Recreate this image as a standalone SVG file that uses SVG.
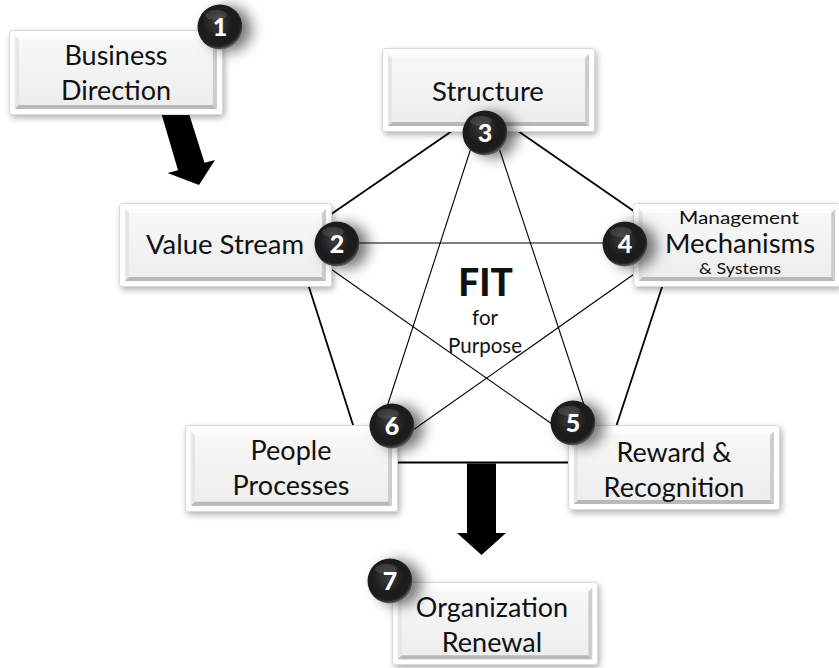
<svg xmlns="http://www.w3.org/2000/svg" xmlns:xlink="http://www.w3.org/1999/xlink" width="839" height="668" viewBox="0 0 839 668">
  <style>
    .edge { stroke: #000; stroke-width: 1.8; fill: none; }
    .diag { stroke: #000; stroke-width: 1.1; fill: none; }
    .lbl { font-family: Lato, "Open Sans", sans-serif; fill: #111; text-anchor: middle; }
    .num { font-family: Lato, "Open Sans", sans-serif; font-weight: 900; fill: #fff; text-anchor: middle; font-size: 25px; }
    .fat { fill: #000; }
  </style>
  <defs>
    <filter id="cardShadow" x="-10%" y="-15%" width="125%" height="140%">
      <feDropShadow dx="2" dy="3" stdDeviation="3" flood-color="#000" flood-opacity="0.3"/>
    </filter>
    <filter id="ballShadow" x="-60%" y="-60%" width="240%" height="220%">
      <feDropShadow dx="9" dy="2" stdDeviation="7" flood-color="#000" flood-opacity="0.55"/>
    </filter>
    <linearGradient id="face" x1="0" y1="0" x2="0" y2="1">
      <stop offset="0" stop-color="#f8f8f8"/>
      <stop offset="1" stop-color="#ededed"/>
    </linearGradient>
    <radialGradient id="ballFill" cx="0.45" cy="0.42" r="0.6">
      <stop offset="0" stop-color="#3c3c3c"/>
      <stop offset="0.6" stop-color="#1b1b1b"/>
      <stop offset="0.85" stop-color="#202020"/>
      <stop offset="1" stop-color="#7a7a7a"/>
    </radialGradient>
    <!-- bevelled card used by every label box -->
    <symbol id="card" viewBox="0 0 213 85" preserveAspectRatio="none">
      <rect x="0.5" y="0.5" width="212" height="84" rx="3" fill="#fff" stroke="#d9d9d9"/>
      <rect x="6" y="6" width="201" height="73" fill="url(#face)"/>
      <polygon points="6,6 207,6 203,10 10,10" fill="#fcfcfc"/>
      <polygon points="6,6 10,10 10,75 6,79" fill="#e6e6e6"/>
      <polygon points="6,79 10,75 203,75 207,79" fill="#b9b9b9"/>
      <polygon points="207,6 207,79 203,75 203,10" fill="#cdcdcd"/>
    </symbol>
    <!-- glossy numbered ball -->
    <g id="ball">
      <circle r="22.5" fill="url(#ballFill)"/>
      <ellipse cx="-4" cy="-12" rx="11" ry="5" fill="#fff" opacity="0.12"/>
    </g>
  </defs>

  <!-- connectors: pentagon edges and inner star -->
  <g id="connectors">
    <line class="edge" x1="327" y1="217" x2="452" y2="131"/>
    <line class="edge" x1="518" y1="131" x2="638" y2="214"/>
    <line class="edge" x1="663" y1="284" x2="616" y2="427"/>
    <line class="edge" x1="308" y1="284" x2="354" y2="428"/>
    <line class="edge" x1="396" y1="462.5" x2="570" y2="462.5"/>
    <line class="diag" x1="337" y1="243" x2="625" y2="243"/>
    <line class="diag" x1="471" y1="148" x2="386" y2="410"/>
    <line class="diag" x1="499" y1="148" x2="584" y2="405"/>
    <line class="diag" x1="328" y1="267" x2="552" y2="424"/>
    <line class="diag" x1="637" y1="272" x2="413" y2="430"/>
    <!-- flow arrows -->
    <polygon class="fat" points="158.5,103.7 183.5,96.3 204.5,162.8 215,160 199,185 167.5,173 178,170.2"/>
    <polygon class="fat" points="467,463.5 496,463.5 496,533 506,533 481.5,555 457,533 467,533"/>
  </g>

  <g id="n1">
    <use xlink:href="#card" x="9" y="30" width="214" height="85" filter="url(#cardShadow)"/>
    <text class="lbl" x="116" y="65" font-size="27">Business</text>
    <text class="lbl" x="116" y="100" font-size="27">Direction</text>
    <use xlink:href="#ball" x="220" y="27" filter="url(#ballShadow)"/>
    <text class="num" x="220" y="36">1</text>
  </g>

  <g id="n2">
    <use xlink:href="#card" x="119" y="203" width="213" height="84" filter="url(#cardShadow)"/>
    <text class="lbl" x="225" y="254" font-size="27.5">Value Stream</text>
    <use xlink:href="#ball" x="337" y="244" filter="url(#ballShadow)"/>
    <text class="num" x="337" y="253">2</text>
  </g>

  <g id="n3">
    <use xlink:href="#card" x="382" y="48" width="213" height="84" filter="url(#cardShadow)"/>
    <text class="lbl" x="488" y="101" font-size="27.5">Structure</text>
    <use xlink:href="#ball" x="485" y="133" filter="url(#ballShadow)"/>
    <text class="num" x="485" y="142">3</text>
  </g>

  <g id="n4">
    <use xlink:href="#card" x="633" y="203" width="208" height="84" filter="url(#cardShadow)"/>
    <text class="lbl" x="739" y="224" font-size="17.5" textLength="120" lengthAdjust="spacingAndGlyphs">Management</text>
    <text class="lbl" x="740" y="253" font-size="27.5">Mechanisms</text>
    <text class="lbl" x="740" y="274" font-size="16" textLength="82" lengthAdjust="spacingAndGlyphs">&amp; Systems</text>
    <use xlink:href="#ball" x="625" y="244" filter="url(#ballShadow)"/>
    <text class="num" x="625" y="253">4</text>
  </g>

  <g id="n5">
    <use xlink:href="#card" x="568" y="425" width="212" height="85" filter="url(#cardShadow)"/>
    <text class="lbl" x="674" y="462" font-size="27">Reward &amp;</text>
    <text class="lbl" x="674" y="497" font-size="27">Recognition</text>
    <use xlink:href="#ball" x="573" y="423" filter="url(#ballShadow)"/>
    <text class="num" x="573" y="432">5</text>
  </g>

  <g id="n6">
    <use xlink:href="#card" x="185" y="425" width="213" height="87" filter="url(#cardShadow)"/>
    <text class="lbl" x="291" y="460" font-size="27">People</text>
    <text class="lbl" x="291" y="495" font-size="27">Processes</text>
    <use xlink:href="#ball" x="392" y="426" filter="url(#ballShadow)"/>
    <text class="num" x="392" y="435">6</text>
  </g>

  <g id="n7">
    <use xlink:href="#card" x="392" y="582" width="206" height="83" filter="url(#cardShadow)"/>
    <text class="lbl" x="492" y="617" font-size="27">Organization</text>
    <text class="lbl" x="492" y="652" font-size="27">Renewal</text>
    <use xlink:href="#ball" x="390" y="581" filter="url(#ballShadow)"/>
    <text class="num" x="390" y="590">7</text>
  </g>

  <g id="center">
    <text class="lbl" x="485.5" y="296" font-size="37" font-weight="900">FIT</text>
    <text class="lbl" x="485" y="325" font-size="20.5">for</text>
    <text class="lbl" x="485" y="353" font-size="20.5">Purpose</text>
  </g>
</svg>
